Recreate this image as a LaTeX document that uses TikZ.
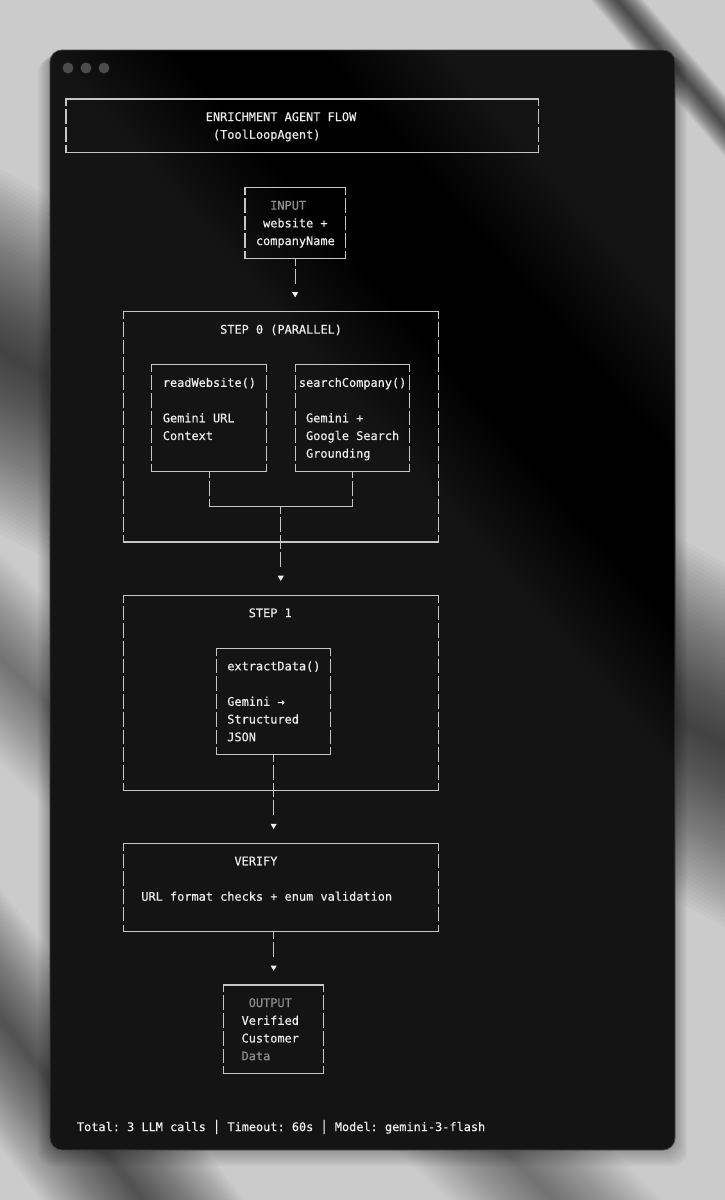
\documentclass[tikz,border=0pt]{standalone}
\usepackage{fontspec}
\setmonofont{DejaVu Sans Mono}[FakeBold = 0.4]
\usetikzlibrary{fit, shapes.geometric}

\definecolor{paper}{HTML}{CBCBCB}
\definecolor{panel}{HTML}{141414}
\definecolor{wire}{HTML}{C6C6C6}
\definecolor{ink}{HTML}{EDEDED}
\definecolor{dim}{HTML}{8E8E8E}
\definecolor{dot}{HTML}{4B4B4B}

\tikzset{
	box/.style = {inner sep = 0pt, outer sep = 0pt},
	rule/.style = {wire, line width = 1.1pt},
	side/.style = {rule, dash pattern = on 14.7pt off 3.02pt, dash phase = 7.35pt},
	link/.style = {side, shorten > = 6pt},
	txt/.style = {anchor = base west, inner sep = 0pt, xshift = -3.58pt, yshift = -4.3pt,
		text = ink, font = \ttfamily\fontsize{11.9}{17.72}\selectfont},
	faint/.style = {txt, text = dim},
	tip/.style = {regular polygon, regular polygon sides = 3, shape border rotate = 180,
		fill = ink, minimum size = 7pt, inner sep = 0pt, outer sep = 0pt}
}

% solid top and bottom, dashed sides, as the text art draws them
\newcommand{\asciibox}[1]{%
	\draw[rule, line cap = rect] (#1.north west) -- (#1.north east);
	\draw[rule, line cap = rect] (#1.south west) -- (#1.south east);
	\draw[side] (#1.north west) -- (#1.south west);
	\draw[side] (#1.north east) -- (#1.south east);}

\begin{document}
\begin{tikzpicture}[x = 7.16pt, y = -17.72pt]

	% Backdrop and window, in pixels
	
	\begin{scope}[shift = {(-66pt, 99pt)}, x = 1pt, y = -1pt]
	
		\useasboundingbox (0, 0) rectangle (725, 1200);
		\fill[paper] (0, 0) rectangle (725, 1200);
		
		\begin{scope}
			\clip (0, 0) rectangle (725, 1200);
			\foreach \w in {2, 4, ..., 40}
				\draw[black, opacity = .045, line width = \w pt] (600, -20) -- (780, 190);
			\foreach \w in {8, 16, ..., 320}
				\draw[black, opacity = .025, line width = \w pt] (-150, 270) -- (900, 840);
			\foreach \w in {5, 10, ..., 160}
				\draw[black, opacity = .022, line width = \w pt] (-250, 700) -- (300, 1400);
			\foreach \w in {6, 12, ..., 150}
				\draw[black, opacity = .018, line width = \w pt] (-100, 560) -- (760, 1400);
		\end{scope}
		
		\foreach \s in {1, ..., 8}
			\fill[black, opacity = .03, rounded corners = 14pt]
				(50 - 1.5*\s, 50 + \s) rectangle (675 + 1.5*\s, 1150 + 2*\s);
		\fill[panel, rounded corners = 12pt] (50, 50) rectangle (675, 1150);
		
		\begin{scope}
			\clip[rounded corners = 12pt] (50, 50) rectangle (675, 1150);
			\foreach \w in {10, 20, ..., 300}
				\draw[black, opacity = .014, line width = \w pt] (150, -60) -- (950, 860);
			\foreach \w in {6, 12, ..., 150}
				\draw[white, opacity = .004, line width = \w pt] (-160, 150) -- (420, 800);
		\end{scope}
		
		\draw[black!72, line width = .8pt, rounded corners = 12pt] (50, 50) rectangle (675, 1150);
		
		\foreach \x in {68, 86, 104}
			\fill[dot] (\x, 68) circle (5.5pt);
	
	\end{scope}
	
	% Title
	
	\node[box, fit = {(0, 0) (66, 3)}] (title) {};
	\asciibox{title}
	\node[txt] (title-a) at (20, 1) {ENRICHMENT AGENT FLOW};
	\node[txt] (title-b) at (21, 2) {(ToolLoopAgent)};
	
	% Input
	
	\node[box, fit = {(25, 5) (39, 9)}] (input) {};
	\asciibox{input}
	\node[faint] (input-head) at (29, 6) {INPUT};
	\node[txt] (input-a) at (28, 7) {website +};
	\node[txt] (input-b) at (27, 8) {companyName};
	
	% Step 0
	
	\node[box, fit = {(8, 12) (52, 25)}] (step0) {};
	\node[box, fit = {(12, 15) (28, 21)}] (read) {};
	\node[box, fit = {(32, 15) (48, 21)}] (search) {};
	\foreach \b in {step0, read, search} {\asciibox{\b}}
	
	\node[txt] (step0-head) at (22, 13) {STEP 0 (PARALLEL)};
	\node[txt] (read-a) at (14, 16) {readWebsite()};
	\node[txt] (read-b) at (14, 18) {Gemini URL};
	\node[txt] (read-c) at (14, 19) {Context};
	\node[txt] (search-a) at (33, 16) {searchCompany()};
	\node[txt] (search-b) at (34, 18) {Gemini +};
	\node[txt] (search-c) at (34, 19) {Google Search};
	\node[txt] (search-d) at (34, 20) {Grounding};
	
	% Step 1
	
	\node[box, fit = {(8, 28) (52, 39)}] (step1) {};
	\node[box, fit = {(21, 31) (37, 37)}] (extract) {};
	\foreach \b in {step1, extract} {\asciibox{\b}}
	
	\node[txt] (step1-head) at (26, 29) {STEP 1};
	\node[txt] (extract-a) at (23, 32) {extractData()};
	\node[txt] (extract-b) at (23, 34) {Gemini →};
	\node[txt] (extract-c) at (23, 35) {Structured};
	\node[txt] (extract-d) at (23, 36) {JSON};
	
	% Verify
	
	\node[box, fit = {(8, 42) (52, 47)}] (verify) {};
	\asciibox{verify}
	\node[txt] (verify-head) at (24, 43) {VERIFY};
	\node[txt] (verify-a) at (11, 45) {URL format checks + enum validation};
	
	% Output
	
	\node[box, fit = {(22, 50) (36, 55)}] (output) {};
	\asciibox{output}
	\node[faint] (output-head) at (26, 51) {OUTPUT};
	\node[txt] (output-a) at (25, 52) {Verified};
	\node[txt] (output-b) at (25, 53) {Customer};
	\node[faint] (output-c) at (25, 54) {Data};
	
	% Connectors
	
	\node[tip] (tip0) at (32, 11) {};
	\draw[link] (input.south) -- (tip0);
	
	\coordinate (merge) at (30, 23);
	\draw[side] (read.south) -- (read.south |- merge);
	\draw[side] (search.south) -- (search.south |- merge);
	\draw[rule] (read.south |- merge) -- (search.south |- merge);
	\node[tip] (tip1) at (30, 27) {};
	\draw[link] (merge) -- (tip1);
	
	\node[tip] (tip2) at (29, 41) {};
	\draw[link] (extract.south) -- (tip2);
	
	\node[tip] (tip3) at (29, 49) {};
	\draw[link] (verify.south -| output.north) -- (tip3);
	
	% Footer
	
	\node[txt] (footer) at (2, 58) {Total: 3 LLM calls │ Timeout: 60s │ Model: gemini-3-flash};

\end{tikzpicture}
\end{document}
